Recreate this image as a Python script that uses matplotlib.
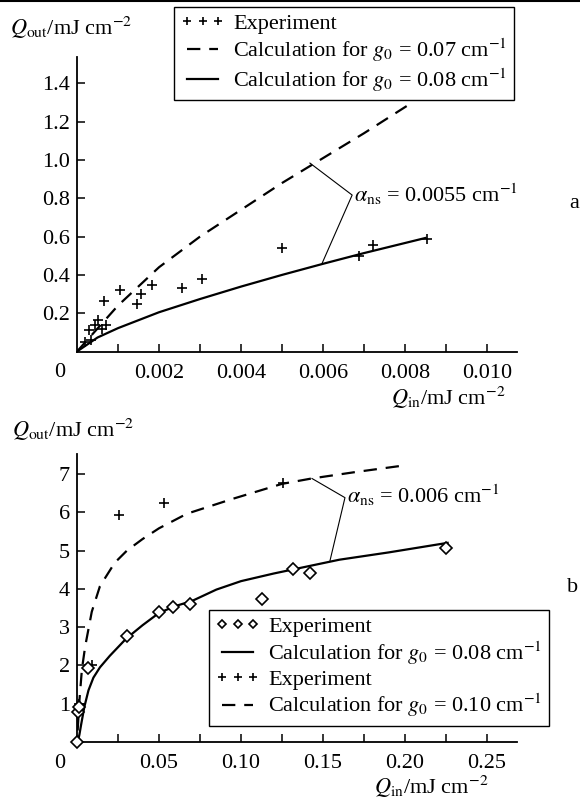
import numpy as np
import matplotlib.pyplot as plt
from matplotlib.lines import Line2D

plt.rcParams['font.family'] = ['Liberation Serif', 'DejaVu Serif']
plt.rcParams['mathtext.fontset'] = 'stix'
plt.rcParams['font.size'] = 16

# ---- panel a data ----
a_exp_x = [0.0002, 0.0003, 0.00035, 0.00045, 0.0005, 0.0006, 0.0007, 0.00066,
           0.00105, 0.00147, 0.00156, 0.00183, 0.00256, 0.00305, 0.0050,
           0.00688, 0.00722, 0.00854]
a_exp_y = [0.05, 0.11, 0.06, 0.14, 0.165, 0.12, 0.14, 0.264,
           0.32, 0.248, 0.30, 0.347, 0.33, 0.378, 0.54,
           0.50, 0.556, 0.59]
a_calc07_x = [0, 0.0005, 0.001, 0.002, 0.003, 0.004, 0.005, 0.006, 0.007, 0.0081]
a_calc07_y = [0, 0.12, 0.24, 0.44, 0.60, 0.74, 0.88, 1.01, 1.14, 1.29]
a_calc08_x = [0, 0.0005, 0.001, 0.002, 0.003, 0.004, 0.005, 0.006, 0.007, 0.0085]
a_calc08_y = [0, 0.073, 0.122, 0.205, 0.274, 0.339, 0.40, 0.458, 0.514, 0.593]

# ---- panel b data ----
b_exp1_x = [0.0, 0.0005, 0.0015, 0.0065, 0.0305, 0.050, 0.0585, 0.069,
            0.113, 0.132, 0.142, 0.225]
b_exp1_y = [0.0, 0.78, 0.92, 1.93, 2.77, 3.39, 3.52, 3.60,
            3.73, 4.52, 4.40, 5.07]
b_exp2_x = [0.001, 0.009, 0.0256, 0.053, 0.1256]
b_exp2_y = [1.0, 2.0, 5.93, 6.25, 6.75]
b_calc08_x = [0.0005, 0.0015, 0.0025, 0.0045, 0.007, 0.01, 0.014, 0.02, 0.03, 0.04,
              0.05, 0.06, 0.07, 0.085, 0.10, 0.12, 0.14, 0.16, 0.19, 0.226]
b_calc08_y = [0.0, 0.2, 0.45, 0.92, 1.35, 1.68, 1.95, 2.25, 2.7, 3.05,
              3.37, 3.55, 3.68, 3.98, 4.2, 4.4, 4.58, 4.76, 4.95, 5.2]
b_calc10_x = [0.0004, 0.0015, 0.003, 0.005, 0.009, 0.014, 0.023, 0.0305, 0.04,
              0.05, 0.067, 0.095, 0.125, 0.143, 0.17, 0.201]
b_calc10_y = [0.3, 1.1, 1.9, 2.5, 3.4, 4.07, 4.68, 5.0, 5.3,
              5.58, 5.96, 6.35, 6.74, 6.88, 7.05, 7.23]

W, H = 580, 809
fig = plt.figure(figsize=(W / 100, H / 100), dpi=100)
axa = fig.add_axes([77 / W, (H - 351.5) / H, 440 / W, 294.5 / H])
axb = fig.add_axes([77 / W, (H - 742) / H, 440 / W, 288 / H])

dash = (6, 4)

def style(ax):
    for s in ['top', 'right']:
        ax.spines[s].set_visible(False)
    for s in ['left', 'bottom']:
        ax.spines[s].set_linewidth(1.3)
    ax.tick_params(which='both', direction='in', length=6, width=1.1)
    ax.tick_params(axis='x', pad=9)
    ax.tick_params(axis='y', pad=5)

leg_kw = dict(loc='upper left', bbox_transform=fig.transFigure, borderaxespad=0,
              numpoints=3, markerscale=0.7, handlelength=2.0, handletextpad=0.35,
              labelspacing=0.1, borderpad=0.3, fancybox=False, framealpha=1,
              edgecolor='black')

# panel a
axa.plot(a_exp_x, a_exp_y, '+', color='black', ms=7.5, mew=1.2, clip_on=False,
         label='Experiment')
axa.plot(a_calc07_x, a_calc07_y, '--', color='black', lw=1.6, dashes=dash,
         label=r'Calculation for $g_0$ = 0.07 cm$^{-1}$')
axa.plot(a_calc08_x, a_calc08_y, '-', color='black', lw=1.6,
         label=r'Calculation for $g_0$ = 0.08 cm$^{-1}$')
axa.set_xlim(0, 0.01073)
axa.set_ylim(0, 1.538)
axa.set_xticks([0.002, 0.004, 0.006, 0.008, 0.010])
axa.set_xticklabels(['0.002', '0.004', '0.006', '0.008', '0.010'])
axa.set_xticks([0.001, 0.003, 0.005, 0.007, 0.009], minor=True)
axa.set_yticks([0.2, 0.4, 0.6, 0.8, 1.0, 1.2, 1.4])
axa.set_yticklabels(['0.2', '0.4', '0.6', '0.8', '1.0', '1.2', '1.4'])
style(axa)
axa.plot([0.00568, 0.00671, 0.00598], [0.984, 0.817, 0.462], color='black', lw=0.8)
axa.text(0.00675, 0.82, r'$\alpha_{\rm ns}$ = 0.0055 cm$^{-1}$', va='center')
axa.legend(bbox_to_anchor=(174 / W, 1 - 7 / H), **leg_kw)

# panel b
axb.plot(b_exp1_x, b_exp1_y, 'D', color='black', mfc='white', ms=6, mew=1.2,
         clip_on=False, zorder=3, label='Experiment')
axb.plot(b_calc08_x, b_calc08_y, '-', color='black', lw=1.6,
         label=r'Calculation for $g_0$ = 0.08 cm$^{-1}$')
axb.plot(b_exp2_x, b_exp2_y, '+', color='black', ms=7.5, mew=1.2, clip_on=False,
         label='Experiment')
axb.plot(b_calc10_x, b_calc10_y, '--', color='black', lw=1.6, dashes=dash,
         label=r'Calculation for $g_0$ = 0.10 cm$^{-1}$')
axb.set_xlim(0, 0.2683)
axb.set_ylim(0, 7.52)
axb.set_xticks([0.05, 0.10, 0.15, 0.20, 0.25])
axb.set_xticklabels(['0.05', '0.10', '0.15', '0.20', '0.25'])
axb.set_xticks([0.025, 0.075, 0.125, 0.175, 0.225], minor=True)
axb.set_yticks([1, 2, 3, 4, 5, 6, 7])
style(axb)
axb.plot([0.1433, 0.1634, 0.1543], [6.88, 6.38, 4.74], color='black', lw=0.8)
axb.text(0.1645, 6.45, r'$\alpha_{\rm ns}$ = 0.006 cm$^{-1}$', va='center')
axb.legend(bbox_to_anchor=(209 / W, 1 - 610 / H), **leg_kw)

# axis titles and corner labels
ylab = r'$Q_{\rm out}$/mJ cm$^{-2}$'
xlab = r'$Q_{\rm in}$/mJ cm$^{-2}$'
fig.text(10 / W, 1 - 28 / H, ylab, va='center', ha='left')
fig.text(12 / W, 1 - 430 / H, ylab, va='center', ha='left')
fig.text(448 / W, 1 - 398 / H, xlab, va='center', ha='center')
fig.text(431 / W, 1 - 787 / H, xlab, va='center', ha='center')
fig.text(60 / W, 1 - 373 / H, '0', va='center', ha='center')
fig.text(60 / W, 1 - 763 / H, '0', va='center', ha='center')
fig.text(574 / W, 1 - 203 / H, 'a', va='center', ha='center')
fig.text(573 / W, 1 - 587 / H, 'b', va='center', ha='center')

fig.add_artist(Line2D([0, 1], [1 - 1 / H, 1 - 1 / H], color='black', lw=1.5,
                      transform=fig.transFigure))

fig.savefig('out.png', dpi=100)
